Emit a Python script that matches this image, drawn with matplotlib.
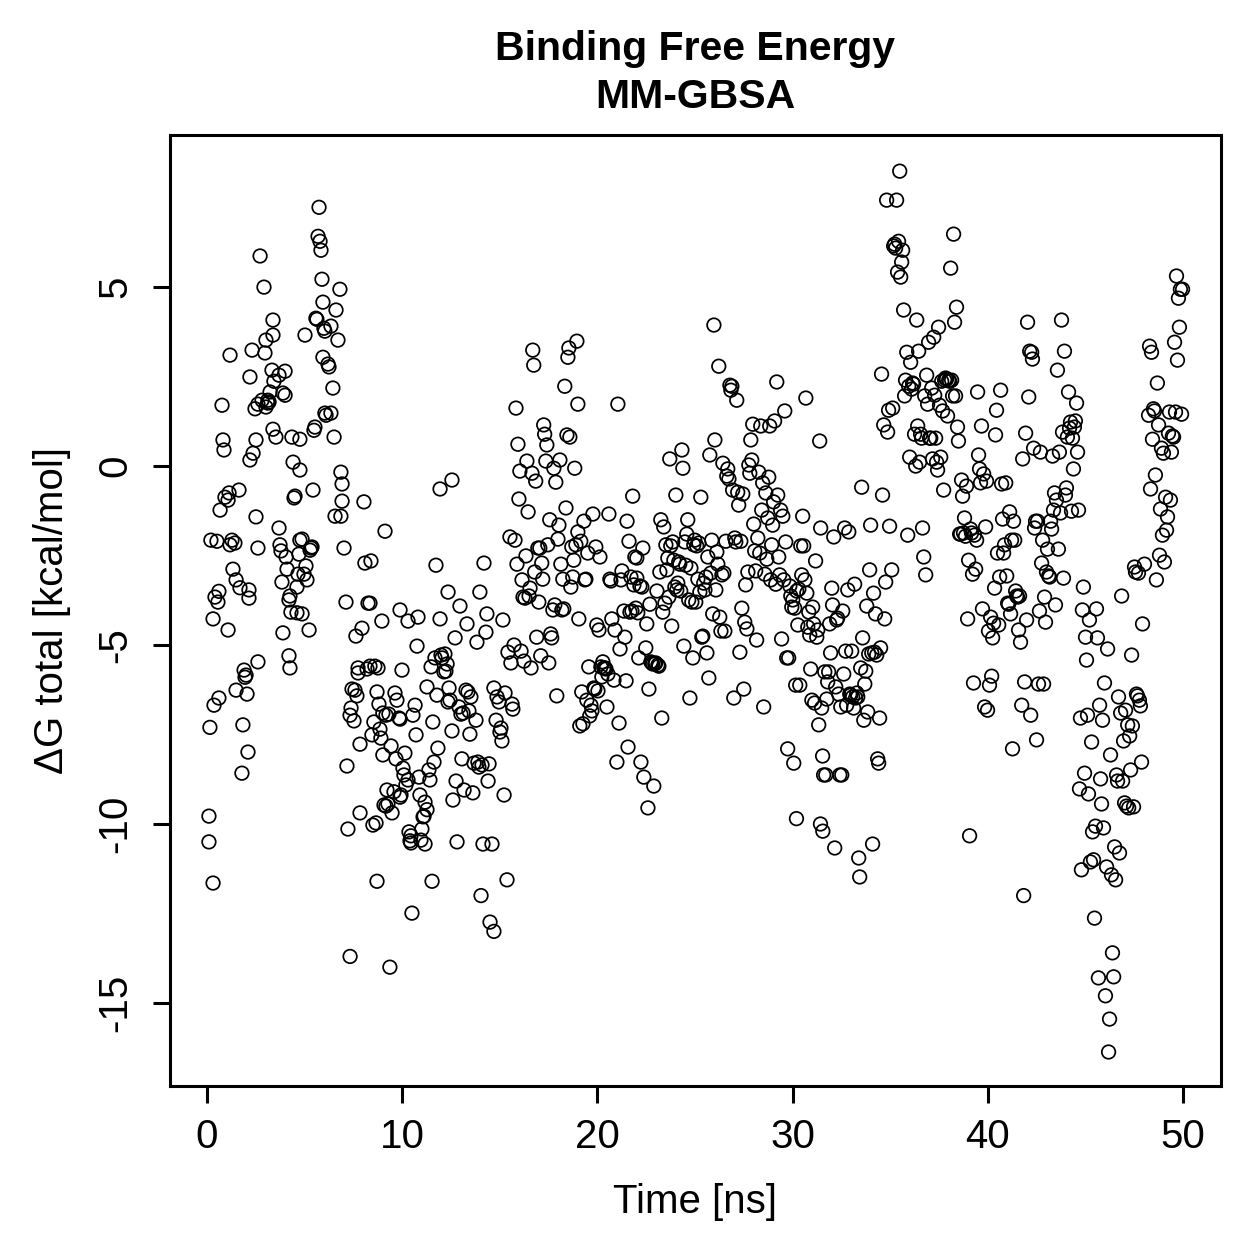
import matplotlib
matplotlib.use("Agg")
import matplotlib.pyplot as plt

plt.rcParams['font.family'] = ['Liberation Sans', 'DejaVu Sans']

# MM-GBSA binding free energy per frame
time_ns = [
    0.10, 0.10, 0.31, 0.15, 0.20, 0.31, 0.36, 0.41, 0.51, 0.56, 0.61, 0.61,
    0.77, 0.82, 0.87, 0.67, 0.92, 1.08, 1.13, 1.18, 1.08, 1.18, 1.28, 1.33,
    1.43, 1.49, 1.49, 1.64, 1.69, 1.79, 1.84, 1.90, 2.00, 1.95, 2.05, 2.10,
    2.15, 2.15, 2.20, 2.20, 2.31, 2.36, 2.46, 2.51, 2.51, 2.61, 2.61, 2.61,
    2.72, 2.82, 2.92, 2.97, 3.02, 3.02, 3.12, 3.12, 3.18, 3.23, 3.33, 3.38,
    3.38, 3.38, 3.53, 3.43, 3.69, 3.69, 3.74, 3.79, 3.84, 3.89, 3.89, 4.00,
    4.00, 4.05, 4.10, 4.20, 4.25, 4.20, 4.25, 4.30, 4.35, 4.41, 4.46, 4.51,
    4.61, 4.61, 4.66, 4.71, 4.76, 4.76, 4.76, 4.87, 4.87, 4.97, 5.02, 5.07,
    5.12, 5.23, 5.28, 5.33, 5.38,
    5.43, 5.48, 5.53, 5.58, 5.63, 5.69, 5.74, 5.79, 5.84, 5.89, 5.94, 5.94, 5.99, 6.04, 6.04, 6.10, 6.20, 6.25, 6.35, 6.35,
    6.45, 6.51, 6.56, 6.61, 6.71, 6.81, 6.86, 6.92, 6.86, 6.92, 7.02, 7.12, 7.17, 7.33, 7.22, 7.33, 7.38, 7.43,
    7.53, 7.58, 7.63, 7.68, 7.74, 7.74, 7.84, 7.84, 7.94, 8.04, 8.09, 8.20, 8.25, 8.35, 8.35, 8.40, 8.45,
    8.50, 8.55, 8.60, 8.66, 8.71, 8.76, 8.71, 8.81, 8.86, 8.91, 8.96, 9.01, 9.01, 9.07, 9.12, 9.17, 9.17, 9.22, 9.27, 9.32, 9.37, 9.43, 9.48,
    9.58, 9.63, 9.68, 9.73, 9.84, 9.89, 9.89, 9.89, 9.94, 9.99, 10.04, 10.09, 10.14, 10.19, 10.30, 10.30, 10.35, 10.40, 10.45, 10.45, 10.50,
    10.55, 10.66, 10.71, 10.76, 10.81, 10.86, 10.91, 10.96, 11.01, 11.07, 11.12, 11.17, 11.17, 11.27, 11.27, 11.37, 11.42, 11.48, 11.53,
    11.57, 11.63, 11.68, 11.73, 11.78, 11.83, 11.94, 11.94, 11.99, 12.04, 12.14, 12.19, 12.24, 12.30, 12.35, 12.40, 12.45, 12.55, 12.35, 12.55,
    12.60, 12.71, 12.76, 12.81, 12.91, 12.96, 13.01, 13.06, 13.12, 13.17, 13.27, 13.32, 13.37, 13.42, 13.47, 13.52,
    13.62, 13.68, 13.78, 13.83, 13.88, 13.93, 13.98, 14.04, 14.09, 14.14, 14.19, 14.29, 14.34, 14.40, 14.45, 14.50, 14.60,
    14.70, 14.70, 14.81, 14.86, 14.96, 15.01, 15.06, 15.11, 15.16, 15.22, 15.27, 15.37, 15.42, 15.52, 15.57, 15.63,
    15.67, 15.73, 15.78, 15.83, 15.88, 15.93, 15.98, 16.03, 16.09, 16.14, 16.19, 16.24, 16.29, 16.34, 16.39, 16.45, 16.50, 16.55, 16.60, 16.65,
    16.69, 16.74, 16.79, 16.84, 16.89, 16.95, 17.00, 17.05, 17.10, 17.15, 17.20, 17.25, 17.30, 17.36, 17.41, 17.46, 17.51, 17.56, 17.61, 17.66,
    17.72, 17.77, 17.82, 17.87, 17.92, 17.98, 18.03, 18.08, 18.13, 18.18, 18.23, 18.28, 18.33, 18.39, 18.44, 18.49, 18.54, 18.59, 18.64, 18.69,
    18.74, 18.79, 18.84, 18.90, 18.95, 19.00, 19.00, 19.05, 19.10, 19.15, 19.20, 19.26, 19.31, 19.36, 19.41, 19.46, 19.51, 19.56, 19.61, 19.67, 19.72,
    19.77, 19.82, 19.87, 19.92, 19.97, 20.03, 20.08, 20.13, 20.18, 20.23, 20.28, 20.33, 20.39, 20.44, 20.49, 20.54, 20.59, 20.64, 20.69, 20.74,
    20.85, 20.90, 21.00, 21.05, 21.11, 21.16, 21.21, 21.26, 21.36, 21.41, 21.47, 21.52, 21.57, 21.62, 21.67, 21.72, 21.77,
    21.81, 21.87, 21.92, 21.97, 22.02, 22.02, 22.07, 22.12, 22.18, 22.23, 22.28, 22.33, 22.38, 22.48, 22.53, 22.59, 22.64, 22.69, 22.74, 22.79,
    22.84, 22.89, 22.94, 22.99, 23.05, 23.10, 23.15, 23.20, 23.25, 23.30, 23.35, 23.40, 23.46, 23.51, 23.56, 23.61, 23.66, 23.71, 23.76, 23.81,
    23.86, 23.92, 23.97, 24.02, 24.07, 24.12, 24.17, 24.22, 24.27, 24.33, 24.38, 24.43, 24.48, 24.53, 24.58, 24.63, 24.68, 24.74, 24.79, 24.84,
    24.89, 24.94, 24.99, 25.04, 25.09, 25.15, 25.20, 25.25, 25.30, 25.35, 25.40, 25.45, 25.51, 25.56, 25.61, 25.66, 25.71, 25.76, 25.81, 25.86,
    25.91, 25.97, 26.02, 26.07, 26.12, 26.17, 26.22, 26.27, 26.33, 26.38, 26.43, 26.48, 26.53, 26.58, 26.63, 26.68, 26.74, 26.79, 26.84, 26.89,
    26.93, 26.99, 27.04, 27.09, 27.14, 27.19, 27.24, 27.30, 27.35, 27.40, 27.45, 27.50, 27.55, 27.60, 27.66, 27.71, 27.76, 27.81, 27.86, 27.91,
    27.96, 28.01, 28.06, 28.11, 28.16, 28.22, 28.27, 28.32, 28.37, 28.42, 28.47, 28.52, 28.58, 28.63, 28.68, 28.73, 28.78, 28.83, 28.88, 28.93,
    28.98, 29.03, 29.08, 29.14, 29.19, 29.24, 29.29, 29.34, 29.39, 29.44, 29.50, 29.55, 29.60, 29.65, 29.70, 29.75, 29.80, 29.86, 29.91, 29.96,
    30.01, 30.06, 30.11, 30.16, 30.21, 30.27, 30.32, 30.37, 30.42, 30.47, 30.52, 30.57, 30.63, 30.68, 30.73, 30.78, 30.83, 30.88, 30.93, 30.99, 30.20,
    31.03, 31.08, 31.13, 31.18, 31.24, 31.29, 31.34, 31.39, 31.44, 31.49, 31.54, 31.59, 31.65, 31.70, 31.75, 31.80, 31.85, 31.90, 31.95, 32.01, 31.43, 31.55,
    32.05, 32.11, 32.16, 32.21, 32.26, 32.31, 32.36, 32.42, 32.47, 32.52, 32.57, 32.62, 32.67, 32.72, 32.77, 32.83, 32.88, 32.93, 32.98, 33.03,
    33.08, 33.13, 33.18, 33.23, 33.29, 33.34, 33.39, 33.44, 33.49, 33.54, 33.59, 33.65, 33.70, 33.75, 33.80, 33.85, 33.90, 33.95, 34.00, 34.06,
    34.10, 34.15, 34.20, 34.25, 34.31, 34.36, 34.41, 34.46, 34.51, 34.56, 34.61, 34.67, 34.72, 34.77, 34.82, 34.87, 34.92, 34.97, 35.08,
    35.13, 35.18, 35.23, 35.28, 35.33, 35.38, 35.43, 35.49, 35.54, 35.59, 35.64, 35.69, 35.74, 35.79, 35.85, 35.90, 35.95, 36.00, 36.05, 36.10,
    36.15, 36.20, 36.25, 36.31, 36.36, 36.41, 36.46, 36.51, 36.56, 36.61, 36.66, 36.72, 36.77, 36.82, 36.87, 36.92, 36.97, 37.02, 37.08, 37.13,
    37.17, 37.23, 37.28, 37.33, 37.38, 37.43, 37.48, 37.53, 37.59, 37.64, 37.69, 37.74, 37.79, 37.84, 37.89, 37.94, 38.00, 38.05, 38.10, 38.15,
    38.20, 38.25, 38.30, 38.35, 38.40, 38.45, 38.50, 38.56, 38.61, 38.66, 38.71, 38.76, 38.81, 38.86, 38.91, 38.97, 39.02, 39.07, 39.12, 39.17,
    39.22, 39.27, 39.32, 39.38, 39.43, 39.48, 39.53, 39.58, 39.63, 39.68, 39.73, 39.79, 39.84, 39.89, 39.94, 39.99, 40.04, 40.09, 40.15, 40.20,
    40.25, 40.30, 40.35, 40.40, 40.45, 40.50, 40.56, 40.61, 40.66, 40.71, 40.76, 40.81, 40.86, 40.92, 40.97, 41.02, 41.07, 41.12, 41.17, 41.22,
    41.27, 41.32, 41.38, 41.43, 41.48, 41.53, 41.58, 41.63, 41.68, 41.74, 41.79, 41.84, 41.89, 41.94, 41.99, 42.04, 42.10, 42.15, 42.20, 42.25,
    42.29, 42.35, 42.40, 42.45, 42.50, 42.55, 42.60, 42.65, 42.70, 42.76, 42.81, 42.86, 42.91, 42.96, 43.01, 43.06, 43.12, 43.17, 43.22, 43.27,
    43.32, 43.37, 43.42, 43.47, 43.52, 43.57, 43.62, 43.67, 43.73, 43.78, 43.83, 43.88, 43.93, 43.98, 44.03, 44.08, 44.14, 44.19, 44.24, 44.29,
    44.34, 44.39, 44.44, 44.49, 44.55, 44.60, 44.65, 44.70, 44.75, 44.80, 44.85, 44.90, 44.96, 45.01, 45.06, 45.11, 45.16, 45.21, 45.26, 45.32,
    45.37, 45.42, 45.47, 45.52, 45.57, 45.62, 45.67, 45.73, 45.78, 45.83, 45.88, 45.93, 45.98, 46.03, 46.09, 46.14, 46.19, 46.24, 46.29, 46.34,
    46.39, 46.45, 46.50, 46.55, 46.60, 46.65, 46.70, 46.75, 46.81, 46.86, 46.91, 46.96, 47.01, 47.06, 47.11, 47.17, 47.22, 47.27, 47.32, 47.37,
    47.41, 47.47, 47.52, 47.57, 47.62, 47.67, 47.72, 47.77, 47.82, 47.88, 47.93, 48.03, 48.24, 48.29, 48.34, 48.39,
    48.44, 48.49, 48.54, 48.59, 48.64, 48.69, 48.75, 48.80, 48.85, 48.90, 48.95, 49.00, 49.05, 49.11, 49.16, 49.21, 49.26, 49.31, 49.36, 49.41,
    49.46, 49.52, 49.57, 49.62, 49.67, 49.72, 49.77, 49.82, 49.87, 49.93, 49.98,
]

dg_total = [
    -9.78, -10.5, -11.65, -7.3, -2.07, -4.27, -6.68, -3.66, -2.1, -3.8, -3.5, -6.48,
    1.7, 0.73, 0.45, -1.23, -0.87, -0.95, -0.75, 3.1, -4.58, -2.2, -2.07, -2.88,
    -2.15, -3.18, -6.26, -0.67, -3.4, -8.58, -7.23, -5.7, -5.84, -5.9, -6.37, -7.99,
    -3.69, -3.46, 0.17, 2.49, 3.24, 0.36, 1.6, 0.73, -1.42, 1.73, -2.29, -5.47,
    5.87, 1.84, 5.0, 3.16, 3.52, 1.65, 1.84, 1.76, 1.79, 2.07, 2.68, 4.08,
    3.66, 1.03, 0.81, 2.37, 2.54, -1.73, -2.2, -2.37, -3.24, -4.66, 2.04, 2.65,
    1.98, -2.54, -2.88, -3.74, -3.63, -5.3, -5.64, -4.08, 0.81, 0.11, -0.89, -0.84,
    -4.1, -3.38, -3.02, -2.46, 0.75, -0.11, -2.07, -4.13, -2.04, -3.02, 3.66, -2.79,
    -3.18, -4.58, -2.35, -2.29, -2.26,
    -0.67, 1.0, 1.09, 4.13, 4.1, 6.42, 7.23, 6.28, 6.03, 5.22, 4.58, 3.04, 3.85, 3.77, 1.48, 1.42, 2.85, 2.77, 1.48, 3.91,
    2.18, 0.81, -1.4, 4.36, 3.52, 4.94, -0.17, -0.5, -1.4, -0.98, -2.29, -3.8, -8.38, -6.96, -10.14, -13.7, -6.76, -6.23,
    -7.12, -6.26, -4.75, -6.42, -5.78, -5.64, -7.77, -9.69, -4.53, -1.0, -2.71, -5.67, -3.83, -5.59, -3.83, -2.65, -7.51,
    -10.03, -7.15, -5.59, -9.97, -11.6, -5.64, -6.31, -6.65, -7.35, -7.6, -4.33, -6.9, -8.07, -9.47, -1.82, -9.5, -6.96, -9.05, -9.44, -6.93, -14.0, -7.82, -9.69,
    -9.1, -6.34, -8.18, -6.54, -7.04, -4.02, -9.25, -7.07, -9.19, -5.7, -8.44, -8.63, -8.02, -8.91, -8.77, -4.33, -10.22, -10.47, -10.53, -10.33, -12.49,
    -6.96, -6.68, -7.51, -5.03, -4.22, -8.69, -9.19, -10.45, -10.14, -9.8, -9.78, -10.56, -9.39, -9.6, -6.17, -8.49, -8.77, -5.61, -11.6,
    -7.15, -8.27, -5.36, -2.77, -6.4, -7.88, -4.27, -0.64, -5.28, -5.36, -5.75, -5.25, -5.73, -5.53, -6.59, -6.2, -6.54, -0.39, -3.52, -7.4,
    -9.33, -4.8, -8.8, -10.5, -6.73, -3.91, -6.93, -8.18, -6.9, -9.05, -6.26, -4.41, -6.31, -6.84, -7.49, -6.45,
    -9.13, -8.3, -7.1, -4.92, -8.27, -8.41, -3.52, -12.0, -8.35, -10.56, -2.71, -4.64, -4.13, -8.8, -8.32, -12.74, -10.56,
    -13.0, -6.2, -7.1, -6.45, -6.59, -7.43, -7.32, -7.68, -4.3, -9.19, -6.34, -11.56, -5.2, -1.98, -5.5, -6.65,
    -6.79, -5.0, -2.07, 1.62, -2.74, 0.61, -0.92, -0.14, -5.17, -3.18, -3.66, -5.45, -3.69, -2.51, 0.14, -1.28, -3.63, -3.41, -5.64, -0.2,
    3.24, 2.82, -2.96, -0.42, -4.78, -2.29, -3.8, -2.29, -5.3, -2.71, -3.16, 1.15, 0.89, 0.14, 0.59, -2.2, -5.5, -1.5, -4.69, -4.8,
    -4.02, -0.06, -3.88, -0.45, -6.42, -2.04, -1.65, 0.17, -2.74, -4.02, -3.16, -3.99, 2.23, -1.17, 0.87, 3.04, 3.3, 0.81, -3.38, -2.26,
    -3.1, -2.63, -0.06, -2.2, 3.49, 1.73, -1.84, -4.27, -7.26, -2.1, -6.31, -7.2, -1.54, -3.18, -3.16, -6.54, -2.43, -5.61, -6.98, -6.68, -6.84,
    -1.34, -6.2, -6.23, -2.26, -4.44, -6.28, -4.58, -2.54, -5.61, -5.89, -5.47, -5.64, -5.64, -5.67, -6.73, -5.81, -1.34, -3.16, -3.21, -4.27,
    -5.98, -4.58, -8.27, 1.73, -7.18, -5.11, -3.18, -2.93, -4.05, -4.78, -6.0, -1.54, -7.85, -2.1, -4.08, -3.1, -4.05,
    -0.84, -3.32, -2.54, -3.97, -2.57, -3.13, -4.1, -5.36, -3.35, -8.27, -3.38, -2.29, -8.69, -5.08, -4.41, -9.55, -6.23, -3.86, -5.47, -5.5,
    -5.53, -8.94, -5.53, -5.5, -3.49, -5.56, -5.59, -2.96, -1.5, -7.04, -4.08, -1.7, -3.83, -2.2, -2.9, -2.57, -3.66, 0.2, -2.23, -4.47,
    -2.12, -2.63, -3.38, -0.81, -3.46, -3.27, -2.68, -2.74, -3.49, 0.45, -0.06, -5.03, -2.12, -2.77, -1.9, -1.5, -3.74, -6.48, -2.85, -3.8,
    -5.36, -2.2, -2.07, -3.8, -2.23, -3.16, -2.15, -3.52, -0.87, -4.78, -4.75, -3.27, -3.46, -3.1, -5.22, -2.54, -5.92, 0.31, -2.99, -2.07,
    -4.13, 3.94, 0.73, -3.46, -2.4, -2.74, 2.79, -4.22, -4.61, -3.04, 0.08, -2.99, -4.61, -2.1, -0.28, -0.08, -0.36, 2.26, 2.12, 2.23,
    -0.67, -6.48, -2.01, -2.12, 1.84, -0.73, -1.09, -5.2, -2.1, -3.97, -0.78, -6.23, -4.36, -3.32, -4.55, -2.96, 0.03, -0.2, 0.73, 0.17,
    1.17, -1.62, -2.37, -2.93, -4.86, -2.01, -0.17, -2.43, 1.12, -1.23, -0.47, -6.73, -3.02, -0.75, -2.6, -1.45, -0.31, 1.12, -3.18, -2.2,
    -1.65, -1.0, 1.26, -3.3, 2.35, -0.81, -2.54, -3.04, -1.23, -4.83, -1.4, -3.18, 1.54, -2.12, -5.36, -7.9, -5.36, -3.35, -3.63, -3.94,
    -3.74, -8.3, -3.97, -6.12, -3.49, -4.44, -3.44, -6.12, -2.23, -3.04, -1.4, -2.23, -3.18, 1.9, -3.55, -4.5, -4.08, -4.72, -5.67, -6.54, -9.85,
    -3.94, -4.41, -6.62, -2.65, -4.78, -4.58, -7.23, 0.7, -1.73, -6.76, -8.1, -8.63, -5.75, -8.63, -6.51, -6.03, -5.75, -4.41, -5.22, -3.41, -10.0, -10.2,
    -3.88, -1.98, -10.67, -6.17, -4.3, -4.25, -6.37, -8.63, -6.73, -8.63, -4.05, -5.81, -1.73, -5.17, -6.68, -3.46, -1.84, -6.37, -6.4, -5.17,
    -6.45, -6.76, -3.3, -6.48, -6.34, -6.45, -10.95, -11.48, -5.64, -0.59, -4.8, -7.1, -6.09, -5.73, -3.91, -6.87, -5.25, -2.9, -1.65, -5.22,
    -10.56, -3.55, -5.2, -4.13, -5.28, -8.18, -8.3, -7.04, -5.08, 2.57, -0.81, 1.15, -4.27, -3.24, 7.43, 0.95, 1.56, -1.68, -2.9,
    1.62, 6.15, 6.2, 6.09, 7.43, 5.42, 6.28, 8.24, 5.28, 5.7, 6.03, 4.36, 1.96, 2.4, 3.18, -1.93, 2.23, 0.25, 2.9, 2.15,
    2.32, 2.29, 0.89, 0.0, 4.08, 1.12, 3.21, 0.11, 0.89, 0.78, -1.73, -2.54, 1.96, -3.04, 2.54, 1.73, 3.46, 0.78, 0.78, 2.18,
    0.2, 3.6, 1.98, 0.78, 0.11, -0.11, 3.88, 1.7, 0.25, 2.37, 1.54, -0.67, 2.4, 2.46, 2.43, 1.4, 2.4, 2.37, 5.53, 2.4,
    1.96, 6.48, 4.02, 1.96, 4.44, 1.09, 0.7, -1.9, -1.9, -0.39, -0.84, -1.87, -1.45, -1.96, -0.56, -4.27, -2.63, -10.33, -1.76, -1.87,
    -3.02, -6.06, -1.93, -2.88, -2.07, 2.07, 0.31, -0.08, -0.47, 1.12, -3.99, -0.22, -6.73, -1.7, -0.42, -6.82, -4.61, -6.12, -4.22, -5.87,
    -4.8, -4.39, -3.41, 0.87, 1.56, -2.43, -4.44, -3.1, 2.12, -0.5, -1.48, -2.43, -2.2, -0.47, -3.07, -3.83, -3.86, -1.28, -4.13, -2.07,
    -7.9, -1.54, -2.07, -3.49, -3.63, -3.66, -4.58, -3.63, -4.92, -6.68, 0.2, -12.0, -6.03, 0.92, -4.3, 4.02, 1.93, 3.21, -6.96, 3.18,
    2.99, 0.5, -1.73, -1.54, -7.65, -1.54, -6.09, -4.05, 0.39, -2.71, -2.07, -6.09, -3.66, -4.36, -2.96, -2.32, -3.07, -3.1, -1.54, -1.76,
    0.28, -1.23, -0.75, -3.88, -0.95, 2.68, -2.32, 0.39, -1.31, 4.08, 0.95, -3.13, 3.21, -0.81, -0.61, 0.81, 2.07, 1.06, 1.23, -1.26,
    0.78, -0.08, 1.09, 1.26, 1.76, 0.39, -1.23, -9.02, -7.04, -11.28, -4.02, -3.38, -8.58, -4.78, -5.42, -6.96, -9.16, -4.3, -11.06, -7.71,
    -10.22, -11.0, -12.63, -10.06, -3.99, -4.8, -14.3, -6.68, -8.74, -9.44, -7.1, -10.11, -6.06, -14.8, -11.2, -5.11, -16.37, -15.45, -8.07, -11.42,
    -13.6, -14.27, -10.64, -11.56, -8.63, -8.8, -6.45, -10.81, -6.9, -3.63, -8.8, -7.68, -9.41, -6.82, -9.5, -7.23, -9.55, -7.54, -8.49, -5.28,
    -7.26, -9.52, -2.82, -2.96, -6.37, -6.42, -2.99, -6.54, -6.7, -8.27, -4.41, -2.74, 1.42, 3.35, -0.64, 3.18,
    0.75, 1.6, 1.54, -0.25, -3.18, 2.32, 1.15, -2.49, -1.2, 0.5, -1.93, 0.36, -2.68, -0.87, -1.79, -1.42, 0.92, 1.51, -0.95, 0.39,
    0.84, 0.81, 3.46, 1.51, 5.31, 2.96, 4.69, 3.88, 4.94, 1.45, 4.94,
]

x_ticks = [0, 10, 20, 30, 40, 50]
y_ticks = [-15, -10, -5, 0, 5]

W = H = 1259
fig = plt.figure(figsize=(W / 100, H / 100), dpi=100)
ax = fig.add_axes([170 / W, 1 - 1086 / H, (1221 - 170) / W, (1086 - 135) / H])

ax.scatter(time_ns, dg_total, s=95, facecolors='none', edgecolors='black',
           linewidths=1.25, clip_on=False)

ax.set_xlim(-1.895, 51.95)
ax.set_ylim(-17.32, 9.25)
ax.set_xticks(x_ticks)
ax.set_yticks(y_ticks)
ax.set_xticklabels([str(t) for t in x_ticks])
ax.set_yticklabels([str(t) for t in y_ticks], rotation=90, va='center')

for sp in ax.spines.values():
    sp.set_linewidth(2.2)
ax.tick_params(axis='both', direction='out', length=12, width=2.2, labelsize=29)
ax.tick_params(axis='x', pad=11)
ax.tick_params(axis='y', pad=14)

fig.text(695 / W, 1 - 60 / H, "Binding Free Energy", ha='center', va='baseline',
         fontsize=29.5, fontweight='bold')
fig.text(695 / W, 1 - 108 / H, "MM-GBSA", ha='center', va='baseline',
         fontsize=29.5, fontweight='bold')
fig.text(695 / W, 1 - 1202 / H, "Time [ns]", ha='center', va='center', fontsize=29)
fig.text(52 / W, 1 - 610 / H, "\u0394G total [kcal/mol]", ha='center', va='center',
         rotation=90, fontsize=29)

fig.savefig("out.png", dpi=100)
